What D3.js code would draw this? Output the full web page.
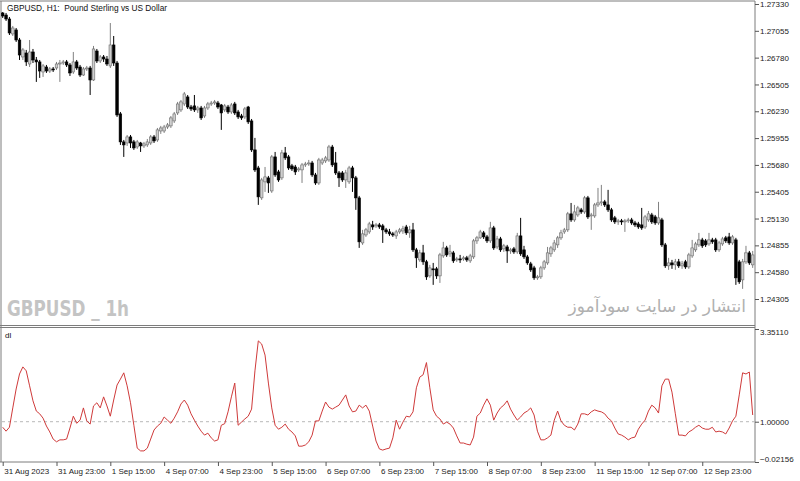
<!DOCTYPE html>
<html>
<head>
<meta charset="utf-8">
<script src="https://cdn.jsdelivr.net/npm/d3@7"></script>
<style>
  body { margin: 0; background: #fff; }
  svg { display: block; }
</style>
</head>
<body>
<script>
// GBPUSD H1, 224 bars (31 Aug 2023 -> 13 Sep 2023)
const open = [1.27238,1.27217,1.27176,1.27023,1.27064,1.26961,1.26787,1.26828,1.26715,1.26838,
1.26756,1.26736,1.26633,1.26684,1.26643,1.26664,1.26674,1.26715,1.26725,1.26736,
1.26705,1.26633,1.26736,1.26684,1.26602,1.26664,1.26674,1.26551,1.26848,1.26746,
1.26787,1.26766,1.26695,1.26910,1.26725,1.26203,1.25916,1.25905,1.25967,1.25916,
1.25864,1.25905,1.25875,1.25885,1.25905,1.25967,1.25936,1.26028,1.26028,1.26069,
1.26080,1.26131,1.26213,1.26244,1.26305,1.26377,1.26274,1.26285,1.26244,1.26264,
1.26182,1.26264,1.26305,1.26315,1.26315,1.26295,1.26244,1.26274,1.26223,1.26305,
1.26223,1.26182,1.26172,1.26274,1.26131,1.25834,1.25649,1.25342,1.25506,1.25547,
1.25413,1.25762,1.25608,1.25547,1.25803,1.25762,1.25670,1.25659,1.25629,1.25629,
1.25680,1.25690,1.25700,1.25577,1.25495,1.25700,1.25721,1.25731,1.25864,1.25700,
1.25598,1.25598,1.25526,1.25506,1.25649,1.25547,1.25342,1.24880,1.24962,1.24993,
1.25065,1.25055,1.25065,1.25055,1.25014,1.24993,1.24973,1.24952,1.24993,1.25003,
1.25044,1.24983,1.25014,1.24809,1.24706,1.24778,1.24686,1.24542,1.24614,1.24614,
1.24542,1.24747,1.24829,1.24768,1.24778,1.24706,1.24716,1.24716,1.24727,1.24696,
1.24737,1.24901,1.24932,1.24983,1.24942,1.24901,1.25034,1.24839,1.24921,1.24819,
1.24839,1.24798,1.24819,1.24788,1.24952,1.24809,1.24737,1.24665,1.24624,1.24522,
1.24532,1.24624,1.24675,1.24768,1.24809,1.24860,1.24932,1.24993,1.25014,1.25178,
1.25116,1.25167,1.25219,1.25198,1.25342,1.25157,1.25157,1.25270,1.25290,1.25301,
1.25270,1.25219,1.25137,1.25096,1.25106,1.25096,1.25106,1.25116,1.25085,1.25075,
1.25065,1.25044,1.25116,1.25167,1.25147,1.25085,1.25116,1.24860,1.24645,1.24675,
1.24655,1.24686,1.24645,1.24686,1.24634,1.24747,1.24809,1.24860,1.24911,1.24901,
1.24870,1.24911,1.24911,1.24809,1.24870,1.24932,1.24942,1.24880,1.24911,1.24686,
1.24501,1.24686,1.24778,1.24655];

const high = [1.27248,1.27238,1.27197,1.27105,1.27084,1.26982,1.26879,1.26859,1.26961,1.26869,
1.26787,1.26756,1.26715,1.26705,1.26684,1.26684,1.26736,1.26756,1.26756,1.26756,
1.26725,1.26838,1.26756,1.26705,1.26684,1.26695,1.26695,1.26900,1.26869,1.26807,
1.26807,1.26797,1.27135,1.27002,1.26746,1.26223,1.25936,1.25987,1.25987,1.25936,
1.25936,1.25916,1.25916,1.25946,1.25987,1.25987,1.26059,1.26080,1.26090,1.26110,
1.26182,1.26223,1.26326,1.26346,1.26428,1.26397,1.26295,1.26397,1.26285,1.26285,
1.26285,1.26326,1.26336,1.26346,1.26336,1.26305,1.26305,1.26295,1.26315,1.26326,
1.26244,1.26203,1.26274,1.26285,1.26151,1.25957,1.25670,1.25547,1.25659,1.25567,
1.25782,1.25813,1.25629,1.25834,1.25864,1.25782,1.25690,1.25680,1.25659,1.25700,
1.25711,1.25731,1.25721,1.25598,1.25752,1.25752,1.25772,1.25885,1.25885,1.25813,
1.25618,1.25618,1.25629,1.25670,1.25670,1.25567,1.25362,1.25014,1.25034,1.25096,
1.25106,1.25085,1.25085,1.25075,1.25034,1.25024,1.24993,1.25014,1.25034,1.25055,
1.25065,1.25055,1.25085,1.24829,1.24809,1.24860,1.24706,1.24655,1.24675,1.24634,
1.24778,1.24891,1.24850,1.24860,1.24798,1.24737,1.24757,1.24747,1.24747,1.24768,
1.24921,1.24952,1.25014,1.25003,1.24962,1.25096,1.25055,1.24952,1.24942,1.24870,
1.24860,1.24829,1.24839,1.24983,1.25137,1.24850,1.24757,1.24686,1.24645,1.24552,
1.24645,1.24706,1.24839,1.24850,1.24911,1.24952,1.25014,1.25034,1.25198,1.25290,
1.25270,1.25260,1.25239,1.25362,1.25362,1.25188,1.25290,1.25444,1.25475,1.25321,
1.25424,1.25239,1.25157,1.25126,1.25126,1.25126,1.25137,1.25137,1.25106,1.25096,
1.25239,1.25167,1.25208,1.25188,1.25167,1.25301,1.25137,1.24880,1.24727,1.24706,
1.24716,1.24716,1.24696,1.24706,1.24778,1.24911,1.24891,1.24983,1.24932,1.24921,
1.24983,1.24932,1.24932,1.24901,1.24942,1.24952,1.24983,1.24962,1.24932,1.24706,
1.24716,1.24850,1.24798,1.24798];

const low = [1.27187,1.27156,1.27012,1.27002,1.26941,1.26756,1.26756,1.26695,1.26684,1.26725,
1.26531,1.26572,1.26582,1.26623,1.26623,1.26633,1.26654,1.26531,1.26705,1.26684,
1.26592,1.26613,1.26654,1.26582,1.26592,1.26643,1.26397,1.26541,1.26725,1.26725,
1.26736,1.26695,1.26674,1.26695,1.26172,1.25885,1.25762,1.25875,1.25854,1.25834,
1.25844,1.25813,1.25854,1.25864,1.25885,1.25905,1.25916,1.25998,1.26008,1.26049,
1.26059,1.26110,1.26192,1.26223,1.26285,1.26254,1.26233,1.26223,1.26213,1.26141,
1.26162,1.26244,1.26285,1.26295,1.26254,1.26039,1.26223,1.26203,1.26203,1.26192,
1.26151,1.26141,1.26151,1.26100,1.25813,1.25608,1.25270,1.25321,1.25403,1.25393,
1.25393,1.25557,1.25506,1.25526,1.25731,1.25629,1.25618,1.25577,1.25608,1.25495,
1.25659,1.25670,1.25557,1.25475,1.25475,1.25680,1.25700,1.25711,1.25659,1.25577,
1.25454,1.25506,1.25444,1.25485,1.25403,1.25219,1.24829,1.24860,1.24942,1.24973,
1.25014,1.25034,1.25024,1.24880,1.24973,1.24952,1.24942,1.24921,1.24973,1.24973,
1.24962,1.24932,1.24788,1.24624,1.24686,1.24655,1.24501,1.24522,1.24450,1.24511,
1.24470,1.24727,1.24737,1.24737,1.24675,1.24686,1.24675,1.24696,1.24686,1.24675,
1.24716,1.24870,1.24921,1.24921,1.24880,1.24880,1.24809,1.24819,1.24788,1.24788,
1.24675,1.24768,1.24768,1.24768,1.24747,1.24716,1.24655,1.24583,1.24501,1.24501,
1.24511,1.24604,1.24655,1.24737,1.24788,1.24829,1.24911,1.24973,1.24993,1.25096,
1.25096,1.25147,1.25178,1.25178,1.25126,1.25014,1.25137,1.25249,1.25260,1.25249,
1.25198,1.25096,1.25075,1.25065,1.25065,1.24993,1.25085,1.25065,1.25044,1.25024,
1.25014,1.25024,1.25096,1.25075,1.25065,1.25065,1.24839,1.24624,1.24604,1.24614,
1.24604,1.24624,1.24614,1.24614,1.24614,1.24727,1.24788,1.24839,1.24829,1.24839,
1.24850,1.24870,1.24788,1.24788,1.24850,1.24880,1.24860,1.24860,1.24450,1.24460,
1.24409,1.24665,1.24655,1.24624];

const close = [1.27207,1.27176,1.27033,1.27084,1.26961,1.26807,1.26859,1.26736,1.26838,1.26756,
1.26736,1.26643,1.26695,1.26643,1.26664,1.26654,1.26715,1.26725,1.26736,1.26705,
1.26623,1.26736,1.26674,1.26602,1.26664,1.26674,1.26551,1.26869,1.26746,1.26787,
1.26766,1.26715,1.26910,1.26725,1.26192,1.25916,1.25885,1.25967,1.25905,1.25854,
1.25916,1.25875,1.25895,1.25916,1.25967,1.25926,1.26039,1.26059,1.26069,1.26090,
1.26162,1.26203,1.26305,1.26326,1.26408,1.26274,1.26254,1.26244,1.26264,1.26162,
1.26264,1.26305,1.26315,1.26326,1.26274,1.26213,1.26285,1.26223,1.26295,1.26213,
1.26172,1.26162,1.26254,1.26121,1.25834,1.25629,1.25352,1.25526,1.25557,1.25495,
1.25762,1.25577,1.25526,1.25803,1.25752,1.25649,1.25639,1.25608,1.25639,1.25680,
1.25690,1.25700,1.25577,1.25495,1.25731,1.25731,1.25752,1.25864,1.25680,1.25598,
1.25547,1.25526,1.25598,1.25649,1.25547,1.25342,1.24891,1.24973,1.25014,1.25075,
1.25044,1.25065,1.25044,1.25014,1.24993,1.24973,1.24962,1.24993,1.25014,1.25024,
1.24983,1.25014,1.24809,1.24727,1.24778,1.24686,1.24532,1.24624,1.24604,1.24542,
1.24757,1.24829,1.24757,1.24788,1.24696,1.24716,1.24706,1.24727,1.24706,1.24747,
1.24901,1.24932,1.24993,1.24942,1.24901,1.25034,1.24829,1.24921,1.24809,1.24850,
1.24798,1.24809,1.24788,1.24952,1.24768,1.24737,1.24675,1.24604,1.24522,1.24532,
1.24624,1.24686,1.24778,1.24829,1.24880,1.24932,1.24983,1.25014,1.25178,1.25116,
1.25198,1.25239,1.25198,1.25342,1.25147,1.25167,1.25270,1.25290,1.25301,1.25270,
1.25219,1.25116,1.25096,1.25106,1.25096,1.25106,1.25116,1.25085,1.25065,1.25044,
1.25034,1.25147,1.25178,1.25096,1.25085,1.25137,1.24860,1.24645,1.24675,1.24655,
1.24686,1.24645,1.24665,1.24634,1.24757,1.24829,1.24870,1.24911,1.24850,1.24860,
1.24911,1.24891,1.24809,1.24880,1.24921,1.24901,1.24880,1.24942,1.24522,1.24481,
1.24686,1.24778,1.24675,1.24757];

// "dl" indicator, one value per bar
const dl = [0.86,0.76,0.86,1.35,1.83,2.21,2.39,2.29,1.91,1.53,
1.27,1.20,1.09,0.89,0.74,0.56,0.49,0.54,0.54,0.56,
0.84,1.14,0.96,1.04,1.35,1.02,0.94,1.40,1.48,1.35,
1.63,1.40,1.14,1.55,1.93,2.08,2.24,1.91,1.48,0.91,
0.33,0.26,0.26,0.33,0.56,0.79,0.89,0.96,1.12,1.04,
0.96,1.09,1.25,1.45,1.55,1.42,1.20,1.04,0.89,0.76,
0.66,0.71,0.59,0.51,0.54,0.91,0.95,1.25,1.63,1.98,
0.91,0.99,1.07,1.14,1.32,2.29,3.05,2.97,2.69,1.98,
1.35,0.91,0.81,0.86,0.94,0.81,0.74,0.64,0.38,0.38,
0.41,0.49,0.66,1.02,1.02,1.27,1.50,1.37,1.32,1.37,
1.42,1.55,1.68,1.40,1.25,1.27,1.42,1.35,1.42,1.27,
0.89,0.51,0.31,0.28,0.31,0.33,0.59,1.04,0.81,0.99,
1.14,1.12,1.25,1.86,2.13,2.19,2.50,1.86,1.30,1.14,
1.07,0.94,0.99,0.94,0.84,0.64,0.46,0.46,0.43,0.41,
0.61,1.14,1.22,1.42,1.58,1.42,1.04,1.22,1.35,1.42,
1.53,1.32,1.17,1.04,1.12,1.22,1.27,1.35,1.17,0.76,
0.54,0.54,0.59,0.66,1.04,1.27,1.02,0.91,0.86,0.86,
0.79,0.94,1.20,1.20,1.17,1.25,1.30,1.27,1.25,1.20,
1.09,1.02,0.84,0.69,0.66,0.61,0.54,0.59,0.61,0.81,
0.94,1.04,1.27,1.42,1.35,1.22,1.91,2.08,2.08,1.75,
1.20,0.66,0.66,0.64,0.74,0.79,0.86,0.91,0.84,0.81,
0.81,0.86,0.74,0.76,0.74,0.69,0.84,1.02,1.14,1.68,
2.24,2.21,2.26,1.17];

const priceTicks = [1.27330,1.27055,1.26780,1.26505,1.26230,1.25955,1.25680,1.25405,1.25130,1.24855,1.24580,1.24305];
const dlTicks = [3.35110, 1.00000, -0.02156];
const dlLevel = 1.0;

// time labels, one every 16 bars starting at bar 0
const timeLabels = ["31 Aug 2023","31 Aug 23:00","1 Sep 15:00","4 Sep 07:00","4 Sep 23:00","5 Sep 15:00",
  "6 Sep 07:00","6 Sep 23:00","7 Sep 15:00","8 Sep 07:00","8 Sep 23:00","11 Sep 15:00","12 Sep 07:00","12 Sep 23:00"];
const labelEvery = 16;

const width = 800, height = 481;
const axisX = 755;      // right price scale
const mainBottom = 325.5, subTop = 327.5, subBottom = 462;

const svg = d3.select("body").append("svg")
    .attr("width", width)
    .attr("height", height)
    .style("font-family", "'Liberation Sans', Arial, sans-serif");

const n = close.length;
const x = d3.scalePoint().domain(d3.range(n)).range([2.7, 752.7]);
const y = d3.scaleLinear().domain([1.24305, 1.27330]).range([299, 4]);
const yd = d3.scaleLinear().domain([-0.02156, 3.35110]).range([subBottom, 329]);

// frame
const frame = svg.append("g").attr("stroke", "#7c7c7c").attr("stroke-width", 1).attr("fill", "none");
frame.append("line").attr("x1", 0).attr("x2", axisX).attr("y1", 1).attr("y2", 1);
frame.append("line").attr("x1", 1).attr("x2", 1).attr("y1", 1).attr("y2", subBottom);
frame.append("line").attr("x1", 0).attr("x2", axisX).attr("y1", mainBottom).attr("y2", mainBottom);
frame.append("line").attr("x1", 0).attr("x2", axisX).attr("y1", subTop).attr("y2", subTop);
frame.append("line").attr("x1", 0).attr("x2", axisX).attr("y1", subBottom).attr("y2", subBottom);
frame.append("line").attr("x1", axisX).attr("x2", axisX).attr("y1", 1).attr("y2", subBottom);

// watermarks
svg.append("text")
    .attr("x", 7).attr("y", 315.5)
    .attr("textLength", 122).attr("lengthAdjust", "spacingAndGlyphs")
    .style("font-family", "'DejaVu Sans Condensed', 'DejaVu Sans', sans-serif")
    .style("font-weight", "bold").style("font-size", "21px")
    .style("white-space", "pre")
    .attr("fill", "#c4c4c4")
    .text("GBPUSD _ 1h");

svg.append("text")
    .attr("x", 746).attr("y", 312)
    .attr("text-anchor", "end")
    .style("font-family", "'DejaVu Sans', sans-serif")
    .style("font-size", "17px")
    .attr("fill", "#b0b0b0")
    .text("انتشار در سایت سودآموز");

// candles
const bars = d3.range(n).map(i => ({ i, o: open[i], h: high[i], l: low[i], c: close[i] }));
const up = d => d.c >= d.o;

const cg = svg.append("g");
cg.selectAll("line")
  .data(bars)
  .join("line")
    .attr("x1", d => x(d.i)).attr("x2", d => x(d.i))
    .attr("y1", d => y(d.h)).attr("y2", d => y(d.l))
    .attr("stroke", d => up(d) ? "#808080" : "#000")
    .attr("stroke-width", 1);

cg.selectAll("rect")
  .data(bars)
  .join("rect")
    .attr("x", d => x(d.i) - 1.3)
    .attr("width", 2.6)
    .attr("y", d => y(Math.max(d.o, d.c)))
    .attr("height", d => Math.max(1, Math.abs(y(d.o) - y(d.c))))
    .attr("fill", d => up(d) ? "#cfcfcf" : "#000")
    .attr("stroke", d => up(d) ? "#6a6a6a" : "#000")
    .attr("stroke-width", 0.6);

// title
svg.append("text")
    .attr("x", 7).attr("y", 10.5)
    .style("font-size", "8.3px")
    .style("white-space", "pre")
    .attr("fill", "#111")
    .text("GBPUSD, H1:  Pound Sterling vs US Dollar");

// price axis
const ya = svg.append("g")
    .attr("transform", `translate(${axisX},0)`)
    .call(d3.axisRight(y).tickValues(priceTicks).tickSize(4).tickPadding(1).tickFormat(d3.format(".5f")));
ya.attr("font-size", null).attr("font-family", null);
ya.select(".domain").remove();
ya.selectAll("line").attr("stroke", "#555");
ya.selectAll("text").attr("fill", "#222").style("font-size", "8px");

// indicator pane
svg.append("text")
    .attr("x", 5).attr("y", 338)
    .style("font-size", "8px")
    .attr("fill", "#111")
    .text("dl");

svg.append("line")
    .attr("x1", 2).attr("x2", axisX)
    .attr("y1", yd(dlLevel)).attr("y2", yd(dlLevel))
    .attr("stroke", "#b8b8b8")
    .attr("stroke-dasharray", "3,3");

const line = d3.line()
    .x((d, i) => x(i))
    .y(d => yd(d));

svg.append("path")
    .datum(dl)
    .attr("d", line)
    .attr("fill", "none")
    .attr("stroke", "#cf3a3a")
    .attr("stroke-width", 1);

const yda = svg.append("g")
    .attr("transform", `translate(${axisX},0)`)
    .call(d3.axisRight(yd).tickValues(dlTicks).tickSize(4).tickPadding(1).tickFormat(d3.format(".5f")));
yda.attr("font-size", null).attr("font-family", null);
yda.select(".domain").remove();
yda.selectAll("line").attr("stroke", "#555");
yda.selectAll("text").attr("fill", "#222").style("font-size", "8px");
// edge labels are pushed inside the pane, as the terminal does
yda.selectAll("text").filter(d => d === dlTicks[0]).attr("dy", "0.7em");
yda.selectAll("text").filter(d => d === dlTicks[2]).attr("dy", "-0.1em");

// time axis
const timeIdx = timeLabels.map((_, k) => k * labelEvery);
const xa = svg.append("g")
    .attr("transform", `translate(0,${subBottom})`)
    .call(d3.axisBottom(x).tickValues(timeIdx).tickSize(4).tickPadding(2)
      .tickFormat((d, k) => timeLabels[k]));
xa.attr("font-size", null).attr("font-family", null);
xa.select(".domain").remove();
xa.selectAll("line").attr("stroke", "#555");
xa.selectAll("text")
    .attr("text-anchor", "start")
    .attr("x", 1)
    .attr("fill", "#222")
    .style("font-size", "8px");
</script>
</body>
</html>
